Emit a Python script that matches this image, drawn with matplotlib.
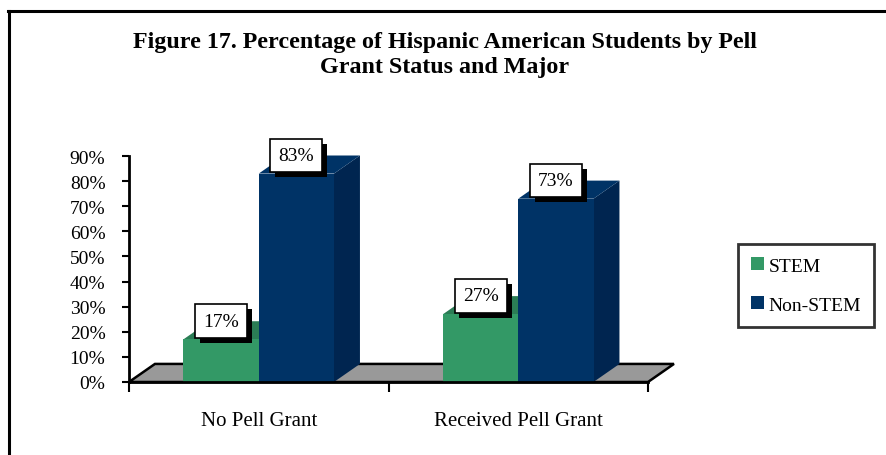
import matplotlib
matplotlib.use("Agg")
import matplotlib.pyplot as plt
from matplotlib.patches import Polygon
from matplotlib.lines import Line2D
import matplotlib.patheffects as pe
import numpy as np

plt.rcParams['font.family'] = ['Liberation Serif', 'DejaVu Serif']

categories = ["No Pell Grant", "Received Pell Grant"]
series_names = ["STEM", "Non-STEM"]
stem = [0.17, 0.27]
non_stem = [0.83, 0.73]
value_labels_stem = ["17%", "27%"]
value_labels_non = ["83%", "73%"]
yticks = [0, 0.1, 0.2, 0.3, 0.4, 0.5, 0.6, 0.7, 0.8, 0.9]
ytick_labels = ["0%", "10%", "20%", "30%", "40%", "50%", "60%", "70%", "80%", "90%"]
title = "Figure 17. Percentage of Hispanic American Students by Pell\nGrant Status and Major"

front_colors = ["#339966", "#003366"]
top_colors = ["#2b7d55", "#003366"]
side_colors = ["#267048", "#002550"]

W, H = 886, 456
fig = plt.figure(figsize=(W / 100, H / 100), dpi=100)
ax = fig.add_axes([129 / W, (H - 383) / H, (648 - 129) / W, (383 - 157) / H])
ax.set_xlim(-0.5, 1.5)
ax.set_ylim(0, 0.9)

DX, DY = 0.10, 0.072  # depth in data units
bw = 0.29

# floor
floor = Polygon([(-0.5, 0), (1.5, 0), (1.5 + DX, DY), (-0.5 + DX, DY)], closed=True,
                facecolor="#999999", edgecolor="black", lw=1.8, clip_on=False, zorder=1)
ax.add_patch(floor)

x = np.arange(len(categories))

def draw_bar(xc, val, i):
    x0, x1 = xc - bw / 2, xc + bw / 2
    side = Polygon([(x1, 0), (x1 + DX, DY), (x1 + DX, val + DY), (x1, val)], closed=True,
                   facecolor=side_colors[i], edgecolor="none", clip_on=False, zorder=2)
    top = Polygon([(x0, val), (x1, val), (x1 + DX, val + DY), (x0 + DX, val + DY)], closed=True,
                  facecolor=top_colors[i], edgecolor="none", clip_on=False, zorder=2)
    ax.add_patch(side)
    ax.add_patch(top)
    ax.bar([xc], [val], width=bw, color=front_colors[i], zorder=3, clip_on=False)

for g in range(len(categories)):
    draw_bar(x[g] - bw / 2, stem[g], 0)
    draw_bar(x[g] + bw / 2, non_stem[g], 1)

def label(xc, val, txt):
    t = ax.annotate(txt, xy=(xc, val), xytext=(0, 7), textcoords="offset points",
                    ha="center", va="bottom", fontsize=14, zorder=10,
                    bbox=dict(boxstyle="square,pad=0.42", fc="white", ec="black", lw=1.2),
                    annotation_clip=False)
    t.get_bbox_patch().set_path_effects([
        pe.SimplePatchShadow(offset=(3.5, -3.5), shadow_rgbFace="black", alpha=1.0),
        pe.Normal()])

for g in range(len(categories)):
    label(x[g] - bw / 2, stem[g], value_labels_stem[g])
    label(x[g] + bw / 2, non_stem[g], value_labels_non[g])

for s in ["top", "right"]:
    ax.spines[s].set_visible(False)
ax.spines["left"].set_linewidth(2)
ax.spines["bottom"].set_linewidth(2)
ax.spines["bottom"].set_zorder(5)
ax.patch.set_visible(False)

ax.set_yticks(yticks)
ax.set_yticklabels(ytick_labels, fontsize=14)
ax.tick_params(axis="y", direction="out", length=5, width=1.5, pad=12)

ax.set_xticks([-0.5, 0.5, 1.5])
ax.set_xticklabels([])
ax.set_xticks(x, minor=True)
ax.set_xticklabels(categories, minor=True, fontsize=15)
ax.tick_params(axis="x", which="major", direction="out", length=7, width=1.5)
ax.tick_params(axis="x", which="minor", length=0, pad=21)

fig.text(445 / W, 1 - 55 / H, title, ha="center", va="center", fontsize=17.3,
         fontweight="bold", linespacing=1.22)

handles = [plt.Rectangle((0, 0), 1, 1, fc=front_colors[0], ec="none"),
           plt.Rectangle((0, 0), 1, 1, fc=front_colors[1], ec="none")]
leg = fig.legend(handles, series_names, loc="upper left",
                 bbox_to_anchor=(738 / W, 1 - 245 / H), fontsize=14, frameon=True,
                 fancybox=False, handlelength=0.65, handleheight=0.65, handletextpad=0.25,
                 labelspacing=1.12, borderpad=0.68, borderaxespad=0)
leg.get_frame().set_edgecolor("black")
leg.get_frame().set_linewidth(2)

fig.add_artist(Line2D([8 / W, 1], [1 - 11.5 / H, 1 - 11.5 / H], color="black", lw=2.2,
                      transform=fig.transFigure))
fig.add_artist(Line2D([8.5 / W, 8.5 / W], [0, 1 - 11.5 / H], color="black", lw=2.2,
                      transform=fig.transFigure))

fig.savefig("out.png", dpi=100)
